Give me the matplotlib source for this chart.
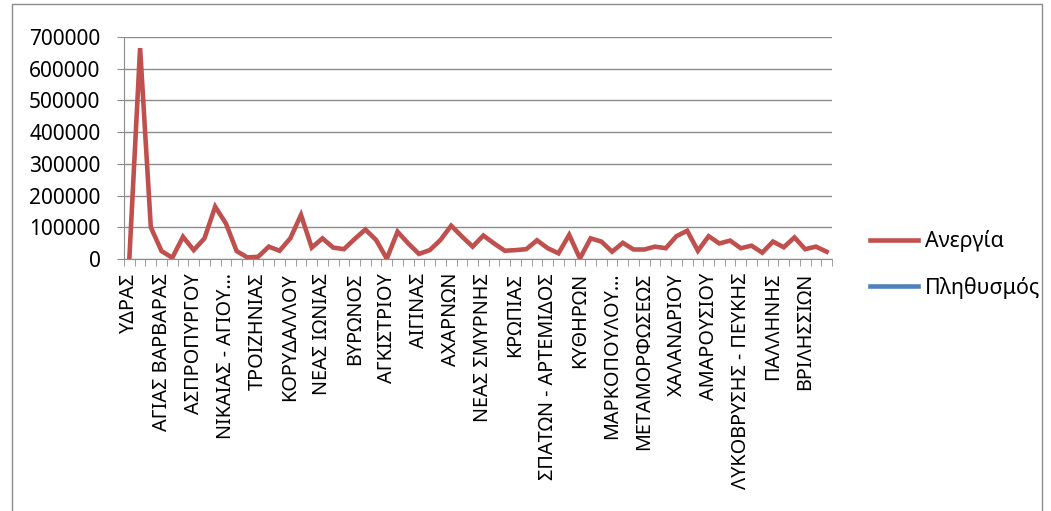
import matplotlib
matplotlib.use('Agg')
import matplotlib.pyplot as plt
from matplotlib.patches import Rectangle
from matplotlib.ticker import FixedLocator, FuncFormatter

plt.rcParams['font.family'] = ['Noto Sans', 'DejaVu Sans']

# Labels shown on the axis (every third municipality)
labels = ['ΥΔΡΑΣ', 'ΑΓΙΑΣ ΒΑΡΒΑΡΑΣ', 'ΑΣΠΡΟΠΥΡΓΟΥ', 'ΝΙΚΑΙΑΣ - ΑΓΙΟΥ…',
          'ΤΡΟΙΖΗΝΙΑΣ', 'ΚΟΡΥΔΑΛΛΟΥ', 'ΝΕΑΣ ΙΩΝΙΑΣ', 'ΒΥΡΩΝΟΣ',
          'ΑΓΚΙΣΤΡΙΟΥ', 'ΑΙΓΙΝΑΣ', 'ΑΧΑΡΝΩΝ', 'ΝΕΑΣ ΣΜΥΡΝΗΣ', 'ΚΡΩΠΙΑΣ',
          'ΣΠΑΤΩΝ - ΑΡΤΕΜΙΔΟΣ', 'ΚΥΘΗΡΩΝ', 'ΜΑΡΚΟΠΟΥΛΟΥ…', 'ΜΕΤΑΜΟΡΦΩΣΕΩΣ',
          'ΧΑΛΑΝΔΡΙΟΥ', 'ΑΜΑΡΟΥΣΙΟΥ', 'ΛΥΚΟΒΡΥΣΗΣ - ΠΕΥΚΗΣ', 'ΠΑΛΛΗΝΗΣ',
          'ΒΡΙΛΗΣΣΙΩΝ']

# Ανεργία values, one per municipality (66)
unemployment = [2000, 665000, 100000, 25000, 4000, 70000, 28000, 65000, 165000, 112000,
                25000, 5000, 7000, 39000, 26000, 65000, 139000, 36000, 65000, 36000,
                31000, 63000, 93000, 60000, 1000, 86000, 49000, 16000, 28000, 60000,
                105000, 71000, 39000, 74000, 49000, 26000, 28000, 31000, 59000, 34000,
                18000, 76000, 2000, 65000, 55000, 23000, 51000, 30000, 30000, 39000,
                34000, 72000, 89000, 26000, 72000, 49000, 58000, 34000, 42000, 20000,
                55000, 37000, 68000, 31000, 39000, 23000]
population = []  # not drawn in the source chart

red = '#C0504D'
blue = '#4F81BD'

fig = plt.figure(figsize=(10.51, 5.11), dpi=100)
fig.patches.append(Rectangle((12 / 1051, -0.01), 1030 / 1051, 1 - 4 / 511 + 0.01,
                             transform=fig.transFigure, fill=False,
                             edgecolor='#8c8c8c', linewidth=1))
ax = fig.add_axes([124 / 1051, 1 - 259 / 511, 708 / 1051, 222 / 511])

x = list(range(len(unemployment)))
ax.plot(x, unemployment, color=red, linewidth=3.3, label='Ανεργία',
        solid_joinstyle='miter', zorder=3)
ax.plot(population, population, color=blue, linewidth=3.3, label='Πληθυσμός')

ax.set_xlim(-0.5, len(unemployment) - 0.5)
ax.set_ylim(0, 700000)
ax.set_yticks(range(0, 700001, 100000))
ax.yaxis.set_major_formatter(FuncFormatter(lambda v, p: f'{int(v)}'))
ax.yaxis.grid(True, color='#8c8c8c', linewidth=1)
ax.set_axisbelow(True)

ax.set_xticks(range(0, len(unemployment), 3))
ax.set_xticklabels(labels, rotation=90)
ax.xaxis.set_minor_locator(FixedLocator([i - 0.5 for i in range(len(unemployment) + 1)]))
ax.tick_params(axis='x', which='major', length=0, pad=10, labelsize=14.3)
ax.tick_params(axis='x', which='minor', length=5, color='#8c8c8c', direction='out')
ax.tick_params(axis='y', length=5, color='#8c8c8c', labelsize=15, pad=12)

for s in ['top', 'right']:
    ax.spines[s].set_visible(False)
for s in ['left', 'bottom']:
    ax.spines[s].set_color('#8c8c8c')

leg = fig.legend(loc='upper left', bbox_to_anchor=(870 / 1051, 1 - 230 / 511),
                 frameon=False, fontsize=15.4, handlelength=2.25, labelspacing=1.15,
                 handletextpad=0.33, borderpad=0, borderaxespad=0)

fig.savefig('out.png', dpi=100)
